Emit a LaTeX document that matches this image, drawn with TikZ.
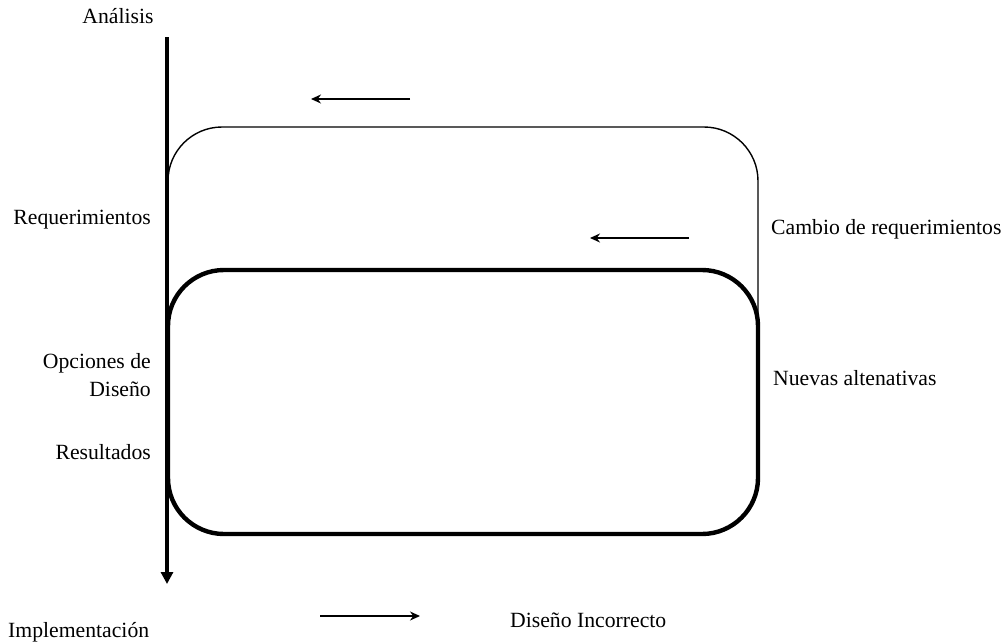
\documentclass[tikz,border=0pt]{standalone}
\usepackage{fontspec}
\setmainfont{Liberation Serif}
\usetikzlibrary{arrows.meta}
\begin{document}
\begin{tikzpicture}[x=1pt,y=-1pt,
  lbl/.style={inner sep=0pt,font=\fontsize{21.7}{27.5}\selectfont},
  axisline/.style={line width=3.8pt,-{Triangle[length=12pt,width=12pt]}},
  thinloop/.style={line width=1.4pt,rounded corners=54pt},
  thickloop/.style={line width=4.4pt,rounded corners=56pt},
  flow/.style={line width=1.3pt,-{Stealth[length=10pt,width=9pt]}}]
\useasboundingbox (0,0) rectangle (1006,643);

% vertical axis
\coordinate (axtop) at (167,37);
\coordinate (axbot) at (167,584);
\draw[axisline] (axtop) -- (axbot);

% requirement loop (thin)
\coordinate (t0) at (168,182);
\coordinate (t1) at (168,127);
\coordinate (t2) at (758,127);
\coordinate (t3) at (758,320);
\draw[thinloop] (t0) -- (t1) -- (t2) -- (t3);

% design loop (thick)
\coordinate (b0) at (168,270);
\coordinate (b1) at (758,534);
\draw[thickloop] (b0) rectangle (b1);

% flow arrows
\coordinate (a1s) at (410,99);  \coordinate (a1e) at (311,99);
\coordinate (a2s) at (689,238); \coordinate (a2e) at (590,238);
\coordinate (a3s) at (320,616); \coordinate (a3e) at (420,616);
\draw[flow] (a1s) -- (a1e);
\draw[flow] (a2s) -- (a2e);
\draw[flow] (a3s) -- (a3e);

% labels
\node[lbl] (analisis) at (118,16) {Análisis};
\node[lbl,anchor=east] (req) at (151,220) {Requerimientos};
\node[lbl,anchor=east,align=right] (opc) at (151,375) {Opciones de\\Diseño};
\node[lbl,anchor=east] (res) at (151,452) {Resultados};
\node[lbl,anchor=west] (impl) at (8,632) {Implementación};
\node[lbl,anchor=west] (dinc) at (510,620) {Diseño Incorrecto};
\node[lbl,anchor=west] (camb) at (771,229) {Cambio de requerimientos};
\node[lbl,anchor=west] (nuev) at (773,378) {Nuevas altenativas};
\end{tikzpicture}
\end{document}
